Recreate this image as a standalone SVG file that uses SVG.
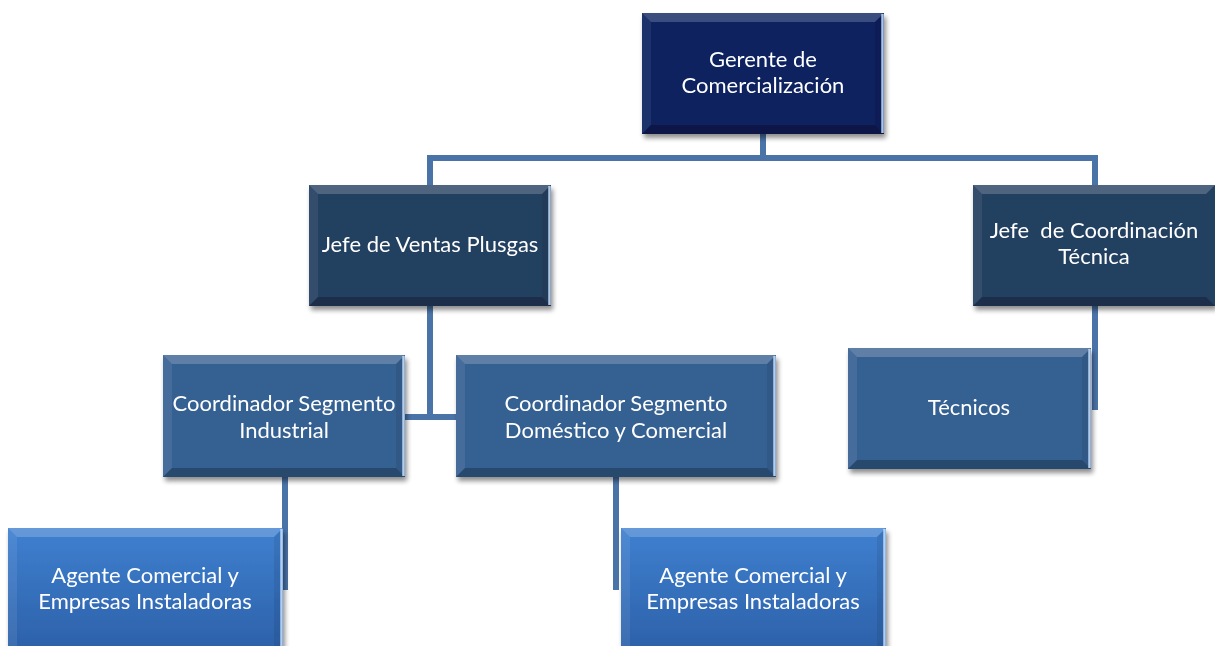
<svg xmlns="http://www.w3.org/2000/svg" width="1215" height="646" viewBox="0 0 1215 646">
<style>
.lbl{font-family:Lato,"Liberation Sans",sans-serif;font-size:22px;fill:#ffffff;text-anchor:middle;white-space:pre}
.conn{fill:none;stroke:#4a73a8;stroke-width:6;stroke-linejoin:miter;stroke-linecap:butt}
.bt{fill:#ffffff;fill-opacity:0.2}
.bl{fill:#ffffff;fill-opacity:0.08}
.bb{fill:#000000;fill-opacity:0.25}
.br{fill:#000000;fill-opacity:0.08}
.hl{stroke:#c9e2ff;stroke-width:2.5;stroke-opacity:0.85}
.n{filter:url(#sh)}
</style>
<defs>
<filter id="sh" x="-10%" y="-10%" width="125%" height="130%">
<feGaussianBlur in="SourceAlpha" stdDeviation="2.5"/>
<feOffset dx="2" dy="4" result="b"/>
<feComponentTransfer><feFuncA type="linear" slope="0.45"/></feComponentTransfer>
<feMerge><feMergeNode/><feMergeNode in="SourceGraphic"/></feMerge>
</filter>
<linearGradient id="ga" x1="0" y1="0" x2="0" y2="1">
<stop offset="0" stop-color="#3f80d0"/>
<stop offset="1" stop-color="#2c60a8"/>
</linearGradient>
</defs>
<g id="connectors">
<path class="conn" d="M763,134 V158"/>
<path class="conn" d="M430,185 V158 H1095 V185"/>
<path class="conn" d="M430,306 V417"/>
<path class="conn" d="M405,417 H456"/>
<path class="conn" d="M1095,306 V410"/>
<path class="conn" d="M285,477 V590"/>
<path class="conn" d="M616,477 V590"/>
</g>
<g id="n-gerente" class="n">
<rect x="642" y="13" width="242" height="121" fill="#0b215f"/>
<polygon class="bt" points="642,13 884,13 875,22 651,22"/>
<polygon class="bl" points="642,13 651,22 651,125 642,134"/>
<polygon class="bb" points="642,134 651,125 875,125 884,134"/>
<polygon class="br" points="884,13 884,134 875,125 875,22"/>
<line class="hl" x1="882.5" y1="14" x2="882.5" y2="133"/>
<text class="lbl" x="763" y="67">Gerente de</text>
<text class="lbl" x="763" y="93">Comercialización</text>
</g>
<g id="n-ventas" class="n">
<rect x="309" y="185" width="242" height="121" fill="#243f60"/>
<polygon class="bt" points="309,185 551,185 542,194 318,194"/>
<polygon class="bl" points="309,185 318,194 318,297 309,306"/>
<polygon class="bb" points="309,306 318,297 542,297 551,306"/>
<polygon class="br" points="551,185 551,306 542,297 542,194"/>
<line class="hl" x1="549.5" y1="186" x2="549.5" y2="305"/>
<text class="lbl" x="430" y="252">Jefe de Ventas Plusgas</text>
</g>
<g id="n-coordtec" class="n">
<rect x="973" y="185" width="242" height="121" fill="#243f60"/>
<polygon class="bt" points="973,185 1215,185 1206,194 982,194"/>
<polygon class="bl" points="973,185 982,194 982,297 973,306"/>
<polygon class="bb" points="973,306 982,297 1206,297 1215,306"/>
<text class="lbl" x="1094" y="238">Jefe  de Coordinación</text>
<text class="lbl" x="1094" y="264">Técnica</text>
</g>
<g id="n-industrial" class="n">
<rect x="163" y="355" width="242" height="122" fill="#366092"/>
<polygon class="bt" points="163,355 405,355 396,364 172,364"/>
<polygon class="bl" points="163,355 172,364 172,468 163,477"/>
<polygon class="bb" points="163,477 172,468 396,468 405,477"/>
<polygon class="br" points="405,355 405,477 396,468 396,364"/>
<line class="hl" x1="403.5" y1="356" x2="403.5" y2="476"/>
<text class="lbl" x="284" y="411">Coordinador Segmento</text>
<text class="lbl" x="284" y="438">Industrial</text>
</g>
<g id="n-domestico" class="n">
<rect x="456" y="355" width="320" height="122" fill="#366092"/>
<polygon class="bt" points="456,355 776,355 767,364 465,364"/>
<polygon class="bl" points="456,355 465,364 465,468 456,477"/>
<polygon class="bb" points="456,477 465,468 767,468 776,477"/>
<polygon class="br" points="776,355 776,477 767,468 767,364"/>
<line class="hl" x1="774.5" y1="356" x2="774.5" y2="476"/>
<text class="lbl" x="616" y="411">Coordinador Segmento</text>
<text class="lbl" x="616" y="438">Doméstico y Comercial</text>
</g>
<g id="n-tecnicos" class="n">
<rect x="848" y="348" width="243" height="121" fill="#366092"/>
<polygon class="bt" points="848,348 1091,348 1082,357 857,357"/>
<polygon class="bl" points="848,348 857,357 857,460 848,469"/>
<polygon class="bb" points="848,469 857,460 1082,460 1091,469"/>
<polygon class="br" points="1091,348 1091,469 1082,460 1082,357"/>
<line class="hl" x1="1089.5" y1="349" x2="1089.5" y2="468"/>
<text class="lbl" x="969" y="415">Técnicos</text>
</g>
<g id="n-agente1" class="n">
<rect x="8" y="528" width="275" height="125" fill="url(#ga)"/>
<polygon class="bt" points="8,528 283,528 274,537 17,537"/>
<polygon class="bl" points="8,528 17,537 17,653 8,653"/>
<polygon class="br" points="283,528 283,653 274,653 274,537"/>
<line class="hl" x1="281.5" y1="529" x2="281.5" y2="653"/>
<text class="lbl" x="145" y="583">Agente Comercial y</text>
<text class="lbl" x="145" y="609">Empresas Instaladoras</text>
</g>
<g id="n-agente2" class="n">
<rect x="621" y="528" width="265" height="125" fill="url(#ga)"/>
<polygon class="bt" points="621,528 886,528 877,537 630,537"/>
<polygon class="bl" points="621,528 630,537 630,653 621,653"/>
<polygon class="br" points="886,528 886,653 877,653 877,537"/>
<line class="hl" x1="884.5" y1="529" x2="884.5" y2="653"/>
<text class="lbl" x="753" y="583">Agente Comercial y</text>
<text class="lbl" x="753" y="609">Empresas Instaladoras</text>
</g>
</svg>
